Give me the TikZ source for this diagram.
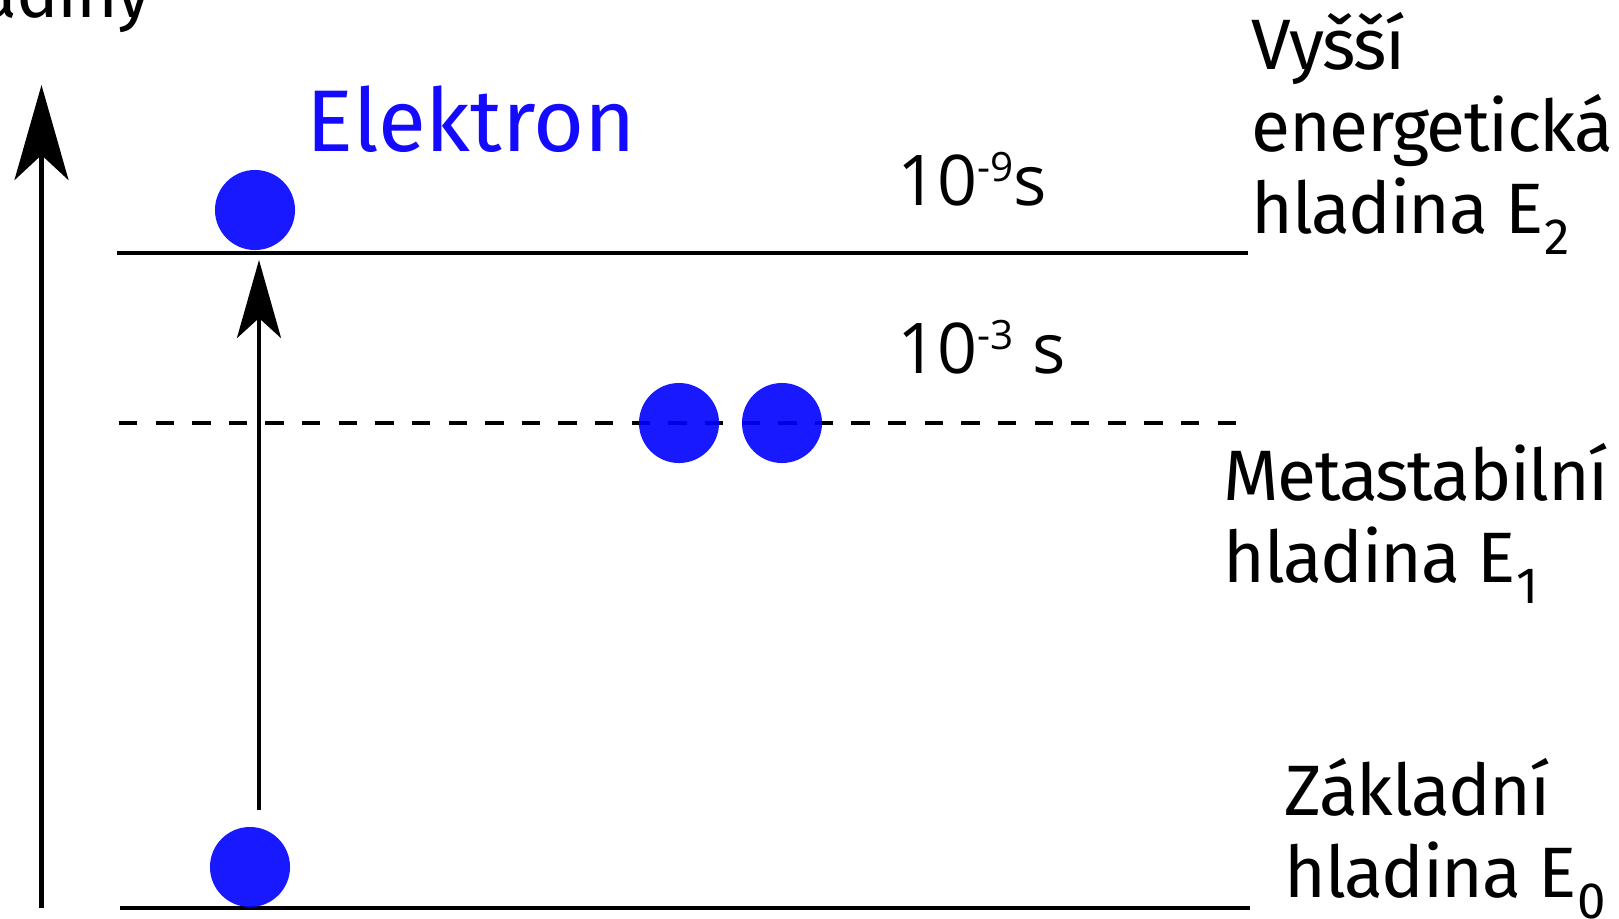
\documentclass[tikz,border=0pt]{standalone}
\usepackage{fontspec}
\setmainfont{Fira Sans}
\newfontfamily\levelfont[LetterSpace=-2]{Fira Sans}
\newfontfamily\timefont{Open Sans}
\usetikzlibrary{arrows.meta}
\definecolor{ElectronBlue}{RGB}{0,0,255}
\definecolor{LabelBlue}{RGB}{20,10,255}
\newcommand{\levelsub}[1]{\kern0.02em\raisebox{-0.3em}{\fontsize{14.5}{14.5}\selectfont #1}}
\newcommand{\timesup}[1]{\raisebox{0.33em}{\fontsize{11.5}{11.5}\selectfont #1}}

\begin{document}
\begin{tikzpicture}[x=0.01cm, y=-0.01cm,
    level/.style={line width=1.3pt, draw=black},
    metalevel/.style={level, dash pattern=on 0.183cm off 0.183cm},
    electron/.style={circle, fill=ElectronBlue, fill opacity=0.9, minimum size=0.8cm, inner sep=0pt},
    levellabel/.style={anchor=base west, align=left, inner sep=0pt, font=\levelfont\fontsize{20.3}{23.3}\selectfont},
    timelabel/.style={anchor=base west, inner sep=0pt, font=\timefont\fontsize{19.9}{22}\selectfont},
    axisarrow/.style={-{Stealth[length=0.95cm, width=0.54cm, inset=0.25cm]}, line width=1.3pt},
    jumparrow/.style={-{Stealth[length=0.78cm, width=0.44cm, inset=0.2cm]}, line width=1.2pt}
  ]
    \useasboundingbox (0,0) rectangle (1619,918);

    \coordinate (axisbot) at (41.5,908);
    \coordinate (axistop) at (41.5,85);
    \coordinate (Ezl) at (120,908);
    \coordinate (Ezr) at (1250,908);
    \coordinate (Eml) at (119,423);
    \coordinate (Emr) at (1237,423);
    \coordinate (Ehl) at (117,253);
    \coordinate (Ehr) at (1248,253);
    \coordinate (jumpfrom) at (259,810);
    \coordinate (jumpto) at (259,260);

    \draw[level] (Ezl) -- (Ezr);
    \draw[metalevel] (Eml) -- (Emr);
    \draw[level] (Ehl) -- (Ehr);
    \draw[axisarrow] (axisbot) -- (axistop);
    \draw[jumparrow] (jumpfrom) -- (jumpto);

    \node[electron] (eground) at (250,867) {};
    \node[electron] (emeta1) at (679,423) {};
    \node[electron] (emeta2) at (782,423) {};
    \node[electron] (ehigh) at (255,210) {};

    \node[levellabel, anchor=base east] (axislabel) at (152,18) {hladiny};
    \node[levellabel, text=LabelBlue, font=\fontsize{24.9}{26}\selectfont] (elabel) at (306,151) {Elektron};
    \node[timelabel] (thigh) at (897,205) {10\timesup{-9}s};
    \node[timelabel] (tmeta) at (897,373) {10\timesup{-3} s};
    \node[levellabel] (lhigh) at (1251,233) {Vyšší\\energetická\\hladina E\levelsub{2}};
    \node[levellabel] (lmeta) at (1223,582) {Metastabilní\\hladina E\levelsub{1}};
    \node[levellabel] (lground) at (1284,897) {Základní\\hladina E\levelsub{0}};
  \end{tikzpicture}
\end{document}
